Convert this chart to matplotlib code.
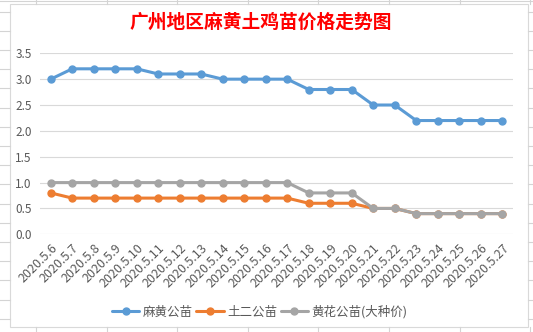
import matplotlib
matplotlib.use("Agg")
import matplotlib.pyplot as plt
import numpy as np

plt.rcParams['font.family'] = ['Noto Sans CJK SC', 'DejaVu Sans']

# data
dates = ['2020.5.6', '2020.5.7', '2020.5.8', '2020.5.9', '2020.5.10', '2020.5.11',
         '2020.5.12', '2020.5.13', '2020.5.14', '2020.5.15', '2020.5.16', '2020.5.17',
         '2020.5.18', '2020.5.19', '2020.5.20', '2020.5.21', '2020.5.22', '2020.5.23',
         '2020.5.24', '2020.5.25', '2020.5.26', '2020.5.27']
mahuang = [3.0, 3.2, 3.2, 3.2, 3.2, 3.1, 3.1, 3.1, 3.0, 3.0, 3.0, 3.0,
           2.8, 2.8, 2.8, 2.5, 2.5, 2.2, 2.2, 2.2, 2.2, 2.2]
tuer = [0.8, 0.7, 0.7, 0.7, 0.7, 0.7, 0.7, 0.7, 0.7, 0.7, 0.7, 0.7,
        0.6, 0.6, 0.6, 0.5, 0.5, 0.4, 0.4, 0.4, 0.4, 0.4]
huanghua = [1.0, 1.0, 1.0, 1.0, 1.0, 1.0, 1.0, 1.0, 1.0, 1.0, 1.0, 1.0,
            0.8, 0.8, 0.8, 0.5, 0.5, 0.4, 0.4, 0.4, 0.4, 0.4]
series_names = ['麻黄公苗', '土二公苗', '黄花公苗(大种价)']
colors = ['#5B9BD5', '#ED7D31', '#A5A5A5']

W, H = 533, 332
fig = plt.figure(figsize=(W / 100, H / 100), dpi=100)
fig.patch.set_facecolor('white')

# spreadsheet background lines around the chart box
bg = fig.add_axes([0, 0, 1, 1])
bg.set_xlim(0, W)
bg.set_ylim(H, 0)
bg.axis('off')
cell = '#D4D4D4'
for y in np.arange(11.6, H, 19.2):
    bg.plot([0, 10], [y, y], color=cell, lw=0.8)
    bg.plot([528, W], [y, y], color=cell, lw=0.8)
for x in np.arange(36, W, 70.6):
    bg.plot([x, x], [0, 4], color=cell, lw=0.8)
    bg.plot([x, x], [327, H], color=cell, lw=0.8)
bg.plot([0, W], [0.5, 0.5], color=cell, lw=0.8)
bg.add_patch(plt.Rectangle((10, 4), 518, 323, facecolor='white', edgecolor='#D9D9D9', lw=0.8))

# plot area
ax = fig.add_axes([40 / W, 1 - 234.3 / H, 473 / W, 181 / H])
ax.set_facecolor('none')
x = np.arange(len(dates))
for vals, name, c in zip([mahuang, tuer, huanghua], series_names, colors):
    ax.plot(x, vals, color=c, lw=2.2, marker='o', markersize=5, label=name,
            solid_capstyle='round')

ax.set_xlim(-0.5, len(dates) - 0.5)
ax.set_ylim(0, 3.5)
ax.set_yticks(np.arange(0, 3.51, 0.5))
ax.set_yticklabels([f'{v:.1f}' for v in np.arange(0, 3.51, 0.5)])
ax.grid(axis='y', color='#D9D9D9', lw=0.8)
ax.set_axisbelow(True)
for s in ax.spines.values():
    s.set_visible(False)
ax.tick_params(axis='both', length=0, colors='#595959', labelsize=8.5)
ax.tick_params(axis='y', pad=6)
ax.set_xticks(x)
ax.set_xticklabels(dates, rotation=45, ha='right', rotation_mode='anchor', fontsize=9)
ax.tick_params(axis='x', pad=5)

fig.text(0.49, 1 - 22 / H, '广州地区麻黄土鸡苗价格走势图', color='#FF0000',
         fontsize=13.5, fontweight='bold', ha='center', va='center')

fig.legend(*ax.get_legend_handles_labels(), loc='center', bbox_to_anchor=(0.487, 1 - 312 / H),
           ncol=3, frameon=False, fontsize=9, handlelength=2.2, columnspacing=0.3,
           handletextpad=0.25, labelcolor='#595959')

fig.savefig('out.png', dpi=100)
